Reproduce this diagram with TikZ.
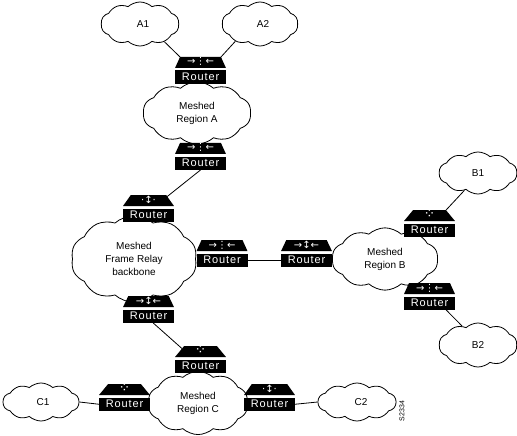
\documentclass[tikz,border=0pt]{standalone}
\usepackage{fontspec}
\setmainfont{Liberation Sans}
\newfontfamily\routerfont[LetterSpace=8]{Liberation Sans}
\newfontfamily\glyphfont{DejaVu Sans}
\newcommand{\fourdots}{{\fontsize{14}{8}\selectfont ⁘}}
\usetikzlibrary{positioning,shapes.geometric,shapes.symbols}

\begin{document}
\begin{tikzpicture}[x=1pt,y=-1pt,
      cloudy/.style={cloud,draw=black,fill=white,line width=0.8pt,align=center,inner sep=0pt,
                  font=\fontsize{10}{13}\selectfont,cloud puffs=10,cloud puff arc=85},
      rbody/.style={fill=black,text=white,minimum width=51pt,minimum height=13.5pt,inner sep=0pt,
                  outer sep=0pt,font=\routerfont\fontsize{11}{11}\selectfont},
      rhead/.style={trapezium,trapezium stretches=true,trapezium left angle=65,trapezium right angle=65,
                  fill=black,text=white,minimum width=51pt,minimum height=11pt,inner sep=0pt,
                  text height=6pt,text depth=1pt,
                  outer sep=0pt,font=\glyphfont\fontsize{10}{8}\selectfont},
      conn/.style={draw=black,line width=0.8pt}]
    \useasboundingbox (0,0) rectangle (517,436);

    % clouds
    \node[cloudy,minimum width=78pt,minimum height=44pt] (a1) at (140,24) {\hspace*{6pt}A1};
    \node[cloudy,minimum width=76pt,minimum height=44pt] (a2) at (260,24) {\hspace*{6pt}A2};
    \node[cloudy,minimum width=108pt,minimum height=62pt] (rega) at (197,113) {Meshed\\Region A};
    \node[cloudy,minimum width=126pt,minimum height=76pt] (fr) at (134,259) {Meshed\\Frame Relay\\backbone};
    \node[cloudy,minimum width=106pt,minimum height=62pt] (regb) at (385,259) {Meshed\\Region B};
    \node[cloudy,minimum width=78pt,minimum height=42pt] (b1) at (478,173) {B1};
    \node[cloudy,minimum width=78pt,minimum height=44pt] (b2) at (478,345) {B2};
    \node[cloudy,minimum width=100pt,minimum height=62pt] (regc) at (198,403) {Meshed\\Region C};
    \node[cloudy,minimum width=76pt,minimum height=38pt] (c1) at (41,402) {\hspace*{4pt}C1};
    \node[cloudy,minimum width=78pt,minimum height=38pt] (c2) at (357,402) {\hspace*{8pt}C2};

    % routers
    \node[rbody] (ra1) at (200.5,77.25) {Router};
    \node[rhead,above=2.5pt of ra1] (ra1h) {→⋮←};
    \node[rbody] (ra2) at (200.5,163.25) {Router};
    \node[rhead,above=2.5pt of ra2] (ra2h) {→⋮←};
    \node[rbody] (rft) at (148.5,215.25) {Router};
    \node[rhead,above=2.5pt of rft] (rfth) {·↕·};
    \node[rbody] (rfr) at (222,260.25) {Router};
    \node[rhead,above=2.5pt of rfr] (rfrh) {→⋮←};
    \node[rbody] (rfb) at (148.5,316.25) {Router};
    \node[rhead,above=2.5pt of rfb] (rfbh) {→↕←};
    \node[rbody] (rbl) at (306.5,260.25) {Router};
    \node[rhead,above=2.5pt of rbl] (rblh) {→↕←};
    \node[rbody] (rb1) at (429.5,230.25) {Router};
    \node[rhead,above=2.5pt of rb1] (rb1h) {\fourdots};
    \node[rbody] (rb2) at (429.5,303.25) {Router};
    \node[rhead,above=2.5pt of rb2] (rb2h) {→⋮←};
    \node[rbody] (rct) at (200.5,366.25) {Router};
    \node[rhead,above=2.5pt of rct] (rcth) {\fourdots};
    \node[rbody] (rc1) at (124.5,404.25) {Router};
    \node[rhead,above=2.5pt of rc1] (rc1h) {\fourdots};
    \node[rbody] (rc2) at (269.5,404.25) {Router};
    \node[rhead,above=2.5pt of rc2] (rc2h) {·↕·};

    % connectors
    \draw[conn] (a1.-36) -- (ra1h.top left corner);
    \draw[conn] (a2.-145) -- (ra1h.top right corner);
    \draw[conn] (ra2.south) -- (rfth.12);
    \draw[conn] (rfr.east) -- (rbl.west);
    \draw[conn] (rfb.-55) -- (rcth.171);
    \draw[conn] (b1.-128) -- (rb1h.18);
    \draw[conn] (rb2.-22) -- (b2.130);
    \draw[conn] (c1.east) -- (rc1.west);
    \draw[conn] (rc2.east) -- (c2.west);

    \node[rotate=90,font=\fontsize{7}{8}\selectfont,inner sep=0pt] (code) at (402,411) {S2334};
  \end{tikzpicture}
\end{document}
